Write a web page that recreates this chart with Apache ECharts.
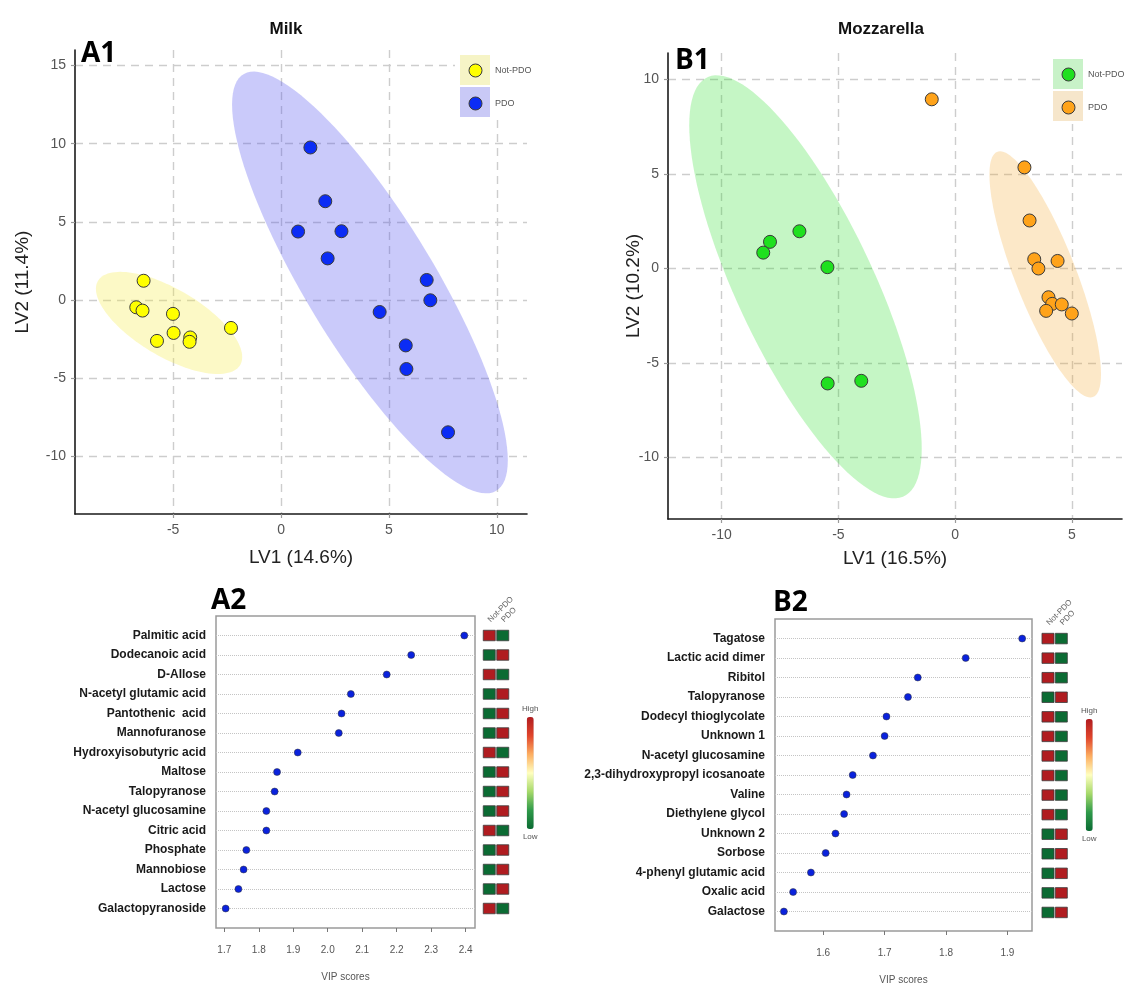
<!DOCTYPE html>
<html>
<head>
<meta charset="utf-8">
<script src="https://cdn.jsdelivr.net/npm/echarts@6/dist/echarts.min.js"></script>
<style>
  html, body { margin: 0; padding: 0; background: #ffffff; }
  #chart { width: 1127px; height: 986px; }
</style>
</head>
<body>
<div id="chart"></div>
<script>
// ---- PLS-DA scores, milk (LV1, LV2) ----
const milkNotPDO = [[-6.37, 1.23], [-6.71, -0.47], [-6.42, -0.68], [-5.01, -0.89], [-4.98, -2.11],
                    [-5.75, -2.62], [-4.21, -2.40], [-4.24, -2.68], [-2.32, -1.79]];
const milkPDO = [[1.36, 9.76], [2.05, 6.32], [0.79, 4.38], [2.80, 4.40], [2.16, 2.66], [6.75, 1.28],
                 [6.92, -0.02], [4.57, -0.77], [5.78, -2.91], [5.81, -4.42], [7.74, -8.47]];

// ---- PLS-DA scores, mozzarella (LV1, LV2) ----
const mozzNotPDO = [[-7.93, 1.41], [-8.22, 0.84], [-6.67, 1.97], [-5.47, 0.07], [-5.46, -6.08], [-4.02, -5.94]];
const mozzPDO = [[-1.00, 8.95], [2.97, 5.35], [3.19, 2.54], [3.39, 0.49], [3.57, 0.00], [4.39, 0.40],
                 [4.00, -1.52], [4.16, -1.87], [4.57, -1.90], [3.90, -2.24], [5.00, -2.38]];

// ---- group confidence ellipses: centre, half range in x / y, correlation ----
const milkNotPDOEllipse = { center: [-5.19, -1.47], half: [3.39, 3.27], corr: -0.667 };
const milkPDOEllipse    = { center: [4.12, 1.12],   half: [6.39, 13.5], corr: -0.843 };
const mozzNotPDOEllipse = { center: [-6.41, -0.97], half: [4.98, 11.19], corr: -0.764 };
const mozzPDOEllipse    = { center: [3.86, -0.31],  half: [2.39, 6.51], corr: -0.81 };

// ---- axis tick labels ----
const milkLV1Ticks = [-5, 0, 5, 10];
const milkLV2Ticks = [-10, -5, 0, 5, 10, 15];
const mozzLV1Ticks = [-10, -5, 0, 5];
const mozzLV2Ticks = [-10, -5, 0, 5, 10];
const milkVipTicks = [1.7, 1.8, 1.9, 2.0, 2.1, 2.2, 2.3, 2.4];
const mozzVipTicks = [1.6, 1.7, 1.8, 1.9];

// ---- VIP scores, milk ----
const milkVipNames = ['Palmitic acid', 'Dodecanoic acid', 'D-Allose', 'N-acetyl glutamic acid', 'Pantothenic  acid',
  'Mannofuranose', 'Hydroxyisobutyric acid', 'Maltose', 'Talopyranose', 'N-acetyl glucosamine', 'Citric acid',
  'Phosphate', 'Mannobiose', 'Lactose', 'Galactopyranoside'];
const milkVip = [2.396, 2.242, 2.171, 2.067, 2.040, 2.032, 1.913, 1.853, 1.846, 1.822, 1.822, 1.764, 1.756, 1.741, 1.704];
const milkLevelNotPDO = [1, 0, 1, 0, 0, 0, 1, 0, 0, 0, 1, 0, 0, 0, 1];
const milkLevelPDO    = [0, 1, 0, 1, 1, 1, 0, 1, 1, 1, 0, 1, 1, 1, 0];

// ---- VIP scores, mozzarella ----
const mozzVipNames = ['Tagatose', 'Lactic acid dimer', 'Ribitol', 'Talopyranose', 'Dodecyl thioglycolate', 'Unknown 1',
  'N-acetyl glucosamine', '2,3-dihydroxypropyl icosanoate', 'Valine', 'Diethylene glycol', 'Unknown 2', 'Sorbose',
  '4-phenyl glutamic acid', 'Oxalic acid', 'Galactose'];
const mozzVip = [1.924, 1.832, 1.754, 1.738, 1.703, 1.700, 1.681, 1.648, 1.638, 1.634, 1.620, 1.604, 1.580, 1.551, 1.536];
const mozzLevelNotPDO = [1, 1, 1, 0, 1, 1, 1, 1, 1, 1, 0, 0, 0, 0, 0];
const mozzLevelPDO    = [0, 0, 0, 1, 0, 0, 0, 0, 0, 0, 1, 1, 1, 1, 1];

const groups = ['Not-PDO', 'PDO'];

// ------------------------------------------------------------------
const FONT = '"Liberation Sans", Arial, Helvetica, sans-serif';
const HEAT_COLORS = ['#0b6b33', '#2f9a4a', '#a6d96a', '#ffffbf', '#fdae61', '#e0452b', '#b01c20'];

function ellipseSeries(e, axisIndex, fill) {
  return {
    type: 'custom',
    xAxisIndex: axisIndex,
    yAxisIndex: axisIndex,
    silent: true,
    z: 1,
    data: [e.center],
    renderItem: function (params, api) {
      const pts = [];
      const s = Math.sqrt(1 - e.corr * e.corr);
      const n = 120;
      for (let i = 0; i < n; i++) {
        const t = (i / n) * Math.PI * 2;
        const x = e.center[0] + e.half[0] * Math.cos(t);
        const y = e.center[1] + e.half[1] * (e.corr * Math.cos(t) + s * Math.sin(t));
        pts.push(api.coord([x, y]));
      }
      return { type: 'polygon', shape: { points: pts }, style: { fill: fill } };
    }
  };
}

function scoreSeries(name, data, axisIndex, color) {
  return {
    type: 'scatter', name: name, xAxisIndex: axisIndex, yAxisIndex: axisIndex, data: data,
    symbolSize: 13, z: 3,
    itemStyle: { color: color, borderColor: '#3a3a3a', borderWidth: 1, opacity: 1 }
  };
}

const dashed = { show: true, lineStyle: { type: [8, 6], color: '#cdcdcd', width: 1.4 } };

function scoreX(gridIndex, min, max, ticks, name, nameGap, splitNumber) {
  return {
    gridIndex: gridIndex, type: 'value', min: min, max: max, splitNumber: splitNumber,
    axisLine: { show: true, onZero: false, lineStyle: { color: '#1a1a1a', width: 1.6 } },
    axisTick: { show: true, length: 4, customValues: ticks, lineStyle: { color: '#9a9a9a', width: 1.2 } },
    axisLabel: { customValues: ticks, fontFamily: FONT, fontSize: 14, color: '#555', margin: 9 },
    splitLine: dashed,
    name: name, nameLocation: 'middle', nameGap: nameGap, nameMoveOverlap: false,
    nameTextStyle: { fontFamily: FONT, fontSize: 19, color: '#222' }
  };
}
function scoreY(gridIndex, min, max, ticks, name, nameGap) {
  return {
    gridIndex: gridIndex, type: 'value', min: min, max: max, splitNumber: 5,
    axisLine: { show: true, onZero: false, lineStyle: { color: '#1a1a1a', width: 1.6 } },
    axisTick: { show: true, length: 4, customValues: ticks, lineStyle: { color: '#9a9a9a', width: 1.2 } },
    axisLabel: { customValues: ticks, fontFamily: FONT, fontSize: 14, color: '#555', margin: 9 },
    splitLine: dashed,
    name: name, nameLocation: 'middle', nameGap: nameGap, nameMoveOverlap: false,
    nameTextStyle: { fontFamily: FONT, fontSize: 19, color: '#222' }
  };
}
function vipX(gridIndex, min, max, ticks, margin) {
  return {
    gridIndex: gridIndex, type: 'value', min: min, max: max, position: 'bottom',
    axisLine: { show: false, onZero: false },
    axisTick: { show: true, inside: false, length: 4, customValues: ticks, lineStyle: { color: '#777', width: 1 } },
    axisLabel: { customValues: ticks, fontFamily: FONT, fontSize: 10, color: '#555', margin: margin,
      formatter: v => v.toFixed(1) },
    splitLine: { show: false },
    name: 'VIP scores', nameLocation: 'middle', nameGap: 44, nameMoveOverlap: false,
    nameTextStyle: { fontFamily: FONT, fontSize: 10, color: '#555' }
  };
}
// rows are stacked top-down: row i sits at value (n - i)
function vipY(gridIndex, names) {
  const n = names.length;
  return {
    gridIndex: gridIndex, type: 'value', min: 0, max: n + 1, interval: 1,
    axisLine: { show: false, onZero: false }, axisTick: { show: false },
    axisLabel: { fontFamily: FONT, fontSize: 12, fontWeight: 'bold', color: '#1a1a1a', margin: 10,
      formatter: v => names[n - v] || '' },
    splitLine: { show: true, showMinLine: false, showMaxLine: false,
      lineStyle: { type: 'dotted', color: '#c4c4c4', width: 1 } }
  };
}
function heatX(gridIndex) {
  return {
    gridIndex: gridIndex, type: 'category', data: groups, position: 'top',
    axisLine: { show: false, onZero: false }, axisTick: { show: false },
    axisLabel: { rotate: -45, interval: 0, hideOverlap: false, fontFamily: FONT, fontSize: 8, color: '#666', margin: -5 },
    splitLine: { show: false }
  };
}
function heatY(gridIndex, n) {
  return { gridIndex: gridIndex, type: 'value', min: 0, max: n + 1, show: false };
}
function heatData(notPdo, pdo) {
  const n = notPdo.length;
  return notPdo.map((v, i) => [0, n - i, v]).concat(pdo.map((v, i) => [1, n - i, v]));
}
function vipData(vals) {
  const n = vals.length;
  return vals.map((v, i) => [v, n - i]);
}

const labelFont = { fontFamily: '"Open Sans", "Liberation Sans", Arial, sans-serif', fontSize: 28, fontWeight: 'bold', color: '#000' };
const titleFont = { fontFamily: FONT, fontSize: 17, fontWeight: 'bold', color: '#111' };

const option = {
  backgroundColor: '#ffffff',
  animation: false,
  title: [
    { text: 'Milk', left: 281, top: 16, textAlign: 'center', textStyle: titleFont },
    { text: 'Mozzarella', left: 876, top: 16, textAlign: 'center', textStyle: titleFont },
    { text: 'A1', left: 81, top: 40, textStyle: labelFont, padding: 0 },
    { text: 'B1', left: 675, top: 47, textStyle: labelFont, padding: 0 },
    { text: 'A2', left: 211, top: 587, textStyle: labelFont, padding: 0 },
    { text: 'B2', left: 773, top: 589, textStyle: labelFont, padding: 0 }
  ],
  grid: [
    { left: 75, top: 50, width: 452, height: 464 },
    { left: 668, top: 53, width: 454, height: 466 },
    { left: 216, top: 616, width: 259, height: 312, show: true, borderColor: '#9a9a9a', borderWidth: 1.5, backgroundColor: '#fff' },
    { left: 482.5, top: 616, width: 27, height: 312 },
    { left: 775, top: 619, width: 257, height: 313, show: true, borderColor: '#9a9a9a', borderWidth: 1.5, backgroundColor: '#fff' },
    { left: 1041.3, top: 619, width: 26.7, height: 313 }
  ],
  xAxis: [
    scoreX(0, -9.55, 11.4, milkLV1Ticks, 'LV1 (14.6%)', 34, 5),
    scoreX(1, -12.3, 7.15, mozzLV1Ticks, 'LV1 (16.5%)', 30, 4),
    vipX(2, 1.676, 2.427, milkVipTicks, 17),
    heatX(3),
    vipX(4, 1.5215, 1.94, mozzVipTicks, 17),
    heatX(5)
  ],
  yAxis: [
    scoreY(0, -13.7, 16, milkLV2Ticks, 'LV2 (11.4%)', 43),
    scoreY(1, -13.25, 11.4, mozzLV2Ticks, 'LV2 (10.2%)', 25),
    vipY(2, milkVipNames),
    heatY(3, milkVipNames.length),
    vipY(4, mozzVipNames),
    heatY(5, mozzVipNames.length)
  ],
  legend: [
    { data: [{ name: 'Not-PDO', itemStyle: { color: '#ffff00' } }, { name: 'PDO', itemStyle: { color: '#0b2cf5' } }],
      orient: 'vertical', left: 468.5, top: 63.5, itemWidth: 13, itemHeight: 13, itemGap: 19, padding: 0,
      icon: 'circle', selectedMode: false, z: 6,
      itemStyle: { borderColor: '#3a3a3a', borderWidth: 1 },
      textStyle: { fontFamily: FONT, fontSize: 9, color: '#555', padding: [0, 0, 0, 8] } },
    { data: [{ name: 'Not-PDO', itemStyle: { color: '#1fe01f' } }, { name: 'PDO', itemStyle: { color: '#ffa31a' } }],
      orient: 'vertical', left: 1061.5, top: 67.5, itemWidth: 13, itemHeight: 13, itemGap: 19, padding: 0,
      icon: 'circle', selectedMode: false, z: 6,
      itemStyle: { borderColor: '#3a3a3a', borderWidth: 1 },
      textStyle: { fontFamily: FONT, fontSize: 9, color: '#555', padding: [0, 0, 0, 8] } }
  ],
  graphic: [
    { type: 'rect', z: 5, shape: { x: 455, y: 47, width: 72, height: 73 }, style: { fill: '#ffffff' } },
    { type: 'rect', z: 5, shape: { x: 460, y: 55, width: 30, height: 30 }, style: { fill: '#f6f4c6' } },
    { type: 'rect', z: 5, shape: { x: 460, y: 87, width: 30, height: 30 }, style: { fill: '#c9c9f6' } },
    { type: 'rect', z: 5, shape: { x: 1046, y: 52, width: 76, height: 72 }, style: { fill: '#ffffff' } },
    { type: 'rect', z: 5, shape: { x: 1053, y: 59, width: 30, height: 30 }, style: { fill: '#c8f2c8' } },
    { type: 'rect', z: 5, shape: { x: 1053, y: 91, width: 30, height: 30 }, style: { fill: '#f6e6cb' } }
  ],
  visualMap: [
    { type: 'continuous', seriesIndex: 9, dimension: 2, min: 0, max: 1, calculable: false, orient: 'vertical',
      left: 522, top: 705, itemWidth: 7, itemHeight: 112, text: ['High', 'Low'], textGap: 4, padding: 0,
      textStyle: { fontFamily: FONT, fontSize: 8, color: '#555' }, inRange: { color: HEAT_COLORS } },
    { type: 'continuous', seriesIndex: 11, dimension: 2, min: 0, max: 1, calculable: false, orient: 'vertical',
      left: 1081, top: 707, itemWidth: 7, itemHeight: 112, text: ['High', 'Low'], textGap: 4, padding: 0,
      textStyle: { fontFamily: FONT, fontSize: 8, color: '#555' }, inRange: { color: HEAT_COLORS } }
  ],
  series: [
    ellipseSeries(milkNotPDOEllipse, 0, 'rgba(245,235,65,0.30)'),
    ellipseSeries(milkPDOEllipse, 0, 'rgba(80,80,240,0.30)'),
    scoreSeries('Not-PDO', milkNotPDO, 0, '#ffff00'),
    scoreSeries('PDO', milkPDO, 0, '#0b2cf5'),
    ellipseSeries(mozzNotPDOEllipse, 1, 'rgba(40,220,40,0.27)'),
    ellipseSeries(mozzPDOEllipse, 1, 'rgba(245,170,50,0.27)'),
    scoreSeries('Not-PDO', mozzNotPDO, 1, '#1fe01f'),
    scoreSeries('PDO', mozzPDO, 1, '#ffa31a'),
    { type: 'scatter', xAxisIndex: 2, yAxisIndex: 2, symbolSize: 7, z: 3,
      data: vipData(milkVip),
      itemStyle: { color: '#0a22dd', borderColor: '#333', borderWidth: 0.5, opacity: 1 } },
    { type: 'scatter', xAxisIndex: 3, yAxisIndex: 3, symbol: 'rect', symbolSize: [12, 10.5],
      data: heatData(milkLevelNotPDO, milkLevelPDO),
      itemStyle: { borderColor: '#3c3c3c', borderWidth: 0.8, opacity: 1 } },
    { type: 'scatter', xAxisIndex: 4, yAxisIndex: 4, symbolSize: 7, z: 3,
      data: vipData(mozzVip),
      itemStyle: { color: '#0a22dd', borderColor: '#333', borderWidth: 0.5, opacity: 1 } },
    { type: 'scatter', xAxisIndex: 5, yAxisIndex: 5, symbol: 'rect', symbolSize: [12, 10.5],
      data: heatData(mozzLevelNotPDO, mozzLevelPDO),
      itemStyle: { borderColor: '#3c3c3c', borderWidth: 0.8, opacity: 1 } }
  ]
};

const chart = echarts.init(document.getElementById('chart'), null, { renderer: 'canvas' });
chart.setOption(option);
</script>
</body>
</html>
